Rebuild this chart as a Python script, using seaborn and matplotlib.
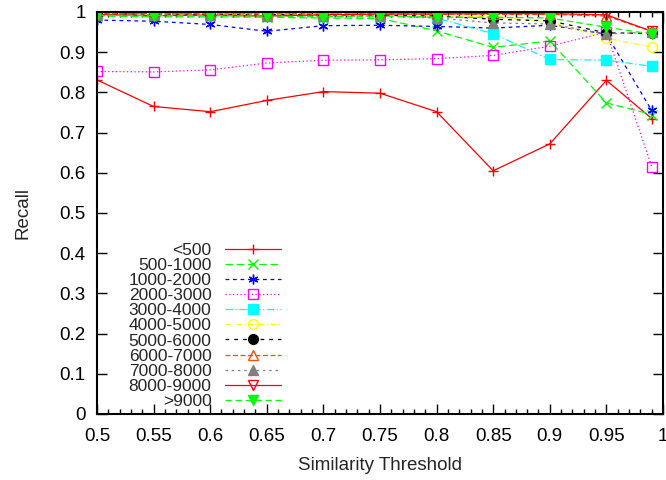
import matplotlib
matplotlib.use("Agg")
import matplotlib.pyplot as plt
import seaborn as sns
import numpy as np
from matplotlib.ticker import MultipleLocator, FuncFormatter

sns.set_theme(style="ticks")
plt.rcParams['font.family'] = ['Liberation Sans', 'DejaVu Sans']

# Limiares de similaridade (eixo x)
limiares = [0.5, 0.55, 0.6, 0.65, 0.7, 0.75, 0.8, 0.85, 0.9, 0.95, 0.99]

# Recall por faixa de tamanho
faixas = ['<500', '500-1000', '1000-2000', '2000-3000', '3000-4000', '4000-5000',
          '5000-6000', '6000-7000', '7000-8000', '8000-9000', '>9000']
r_lt500 = [0.831, 0.765, 0.752, 0.780, 0.802, 0.798, 0.752, 0.605, 0.672, 0.830, 0.735]
r_500_1000 = [0.990, 0.988, 0.988, 0.987, 0.985, 0.984, 0.953, 0.912, 0.928, 0.774, 0.745]
r_1000_2000 = [0.980, 0.977, 0.969, 0.952, 0.966, 0.967, 0.964, 0.960, 0.967, 0.945, 0.755]
r_2000_3000 = [0.852, 0.851, 0.856, 0.873, 0.880, 0.881, 0.884, 0.892, 0.915, 0.950, 0.615]
r_3000_4000 = [0.997, 0.997, 0.997, 0.997, 0.996, 0.995, 0.985, 0.946, 0.882, 0.880, 0.865]
r_4000_5000 = [0.995, 0.995, 0.994, 0.994, 0.993, 0.992, 0.990, 0.988, 0.975, 0.935, 0.913]
r_5000_6000 = [0.995, 0.995, 0.994, 0.994, 0.993, 0.992, 0.990, 0.982, 0.978, 0.948, 0.947]
r_6000_7000 = [0.996, 0.996, 0.995, 0.995, 0.995, 0.995, 0.995, 0.994, 0.994, 0.990, 0.952]
r_7000_8000 = [0.993, 0.993, 0.992, 0.991, 0.990, 0.990, 0.985, 0.973, 0.970, 0.945, 0.950]
r_8000_9000 = [0.994, 0.991, 0.992, 0.990, 0.993, 0.995, 0.995, 0.996, 0.996, 0.993, 0.952]
r_gt9000 = [0.992, 0.991, 0.991, 0.990, 0.988, 0.990, 0.987, 0.987, 0.985, 0.962, 0.945]

series = [r_lt500, r_500_1000, r_1000_2000, r_2000_3000, r_3000_4000, r_4000_5000,
          r_5000_6000, r_6000_7000, r_7000_8000, r_8000_9000, r_gt9000]

# Estilo gnuplot (postscript): cor, marcador, preenchido?, traço
cores = ['#ff0000', '#00ff00', '#0000ff', '#ff00ff', '#00ffff', '#ffff00',
         '#000000', '#ff4d00', '#808080', '#ff0000', '#00ff00']
marcadores = ['+', 'x', (6, 2, 0), 's', 's', 'o', 'o', '^', '^', 'v', 'v']
cheios = [True, True, True, False, True, False, True, False, True, False, True]
tracos = ['-', (0, (6, 3)), (0, (3, 3)), (0, (1, 2)), (0, (6, 2, 1, 2)), (0, (4, 2, 1, 2)),
          (0, (3, 4)), (0, (4, 2)), (0, (2, 3)), '-', (0, (5, 3))]

fig, ax = plt.subplots(figsize=(6.66, 4.8), dpi=100)
fig.subplots_adjust(left=0.1456, right=0.9955, bottom=0.1375, top=0.975)

for nome, vals, c, m, f, t in zip(faixas, series, cores, marcadores, cheios, tracos):
    sns.lineplot(x=limiares, y=vals, ax=ax, color=c, marker=m, linestyle=t,
                 linewidth=0.9, markersize=7, markeredgecolor=c,
                 markerfacecolor=c if f else 'none', markeredgewidth=1.0,
                 label=nome, legend=False)

ax.set_xlim(0.5, 1.0)
ax.set_ylim(0, 1.0)
ax.xaxis.set_major_locator(MultipleLocator(0.05))
ax.xaxis.set_minor_locator(MultipleLocator(0.01))
ax.yaxis.set_major_locator(MultipleLocator(0.1))
fmt = FuncFormatter(lambda v, p: '%g' % round(v, 2))
ax.xaxis.set_major_formatter(fmt)
ax.yaxis.set_major_formatter(fmt)
ax.tick_params(which='both', direction='in', top=True, right=True, colors='black',
               labelsize=13.5, width=1.0)
ax.tick_params(which='major', length=7)
ax.tick_params(which='minor', length=3.5)
ax.tick_params(axis='x', which='major', pad=10)
ax.tick_params(axis='y', which='major', pad=8)
for s in ax.spines.values():
    s.set_color('black')
    s.set_linewidth(1.5)

ax.set_xlabel('Similarity Threshold', fontsize=13.5, labelpad=9)
ax.set_ylabel('Recall', fontsize=13.5, labelpad=20)

ax.legend(loc='lower right', bbox_to_anchor=(0.325, 0.012), frameon=False,
          markerfirst=False, fontsize=12.5, handlelength=3.2, handletextpad=0.8,
          labelspacing=0.0, borderpad=0, borderaxespad=0)

fig.savefig('out.png', dpi=100)
